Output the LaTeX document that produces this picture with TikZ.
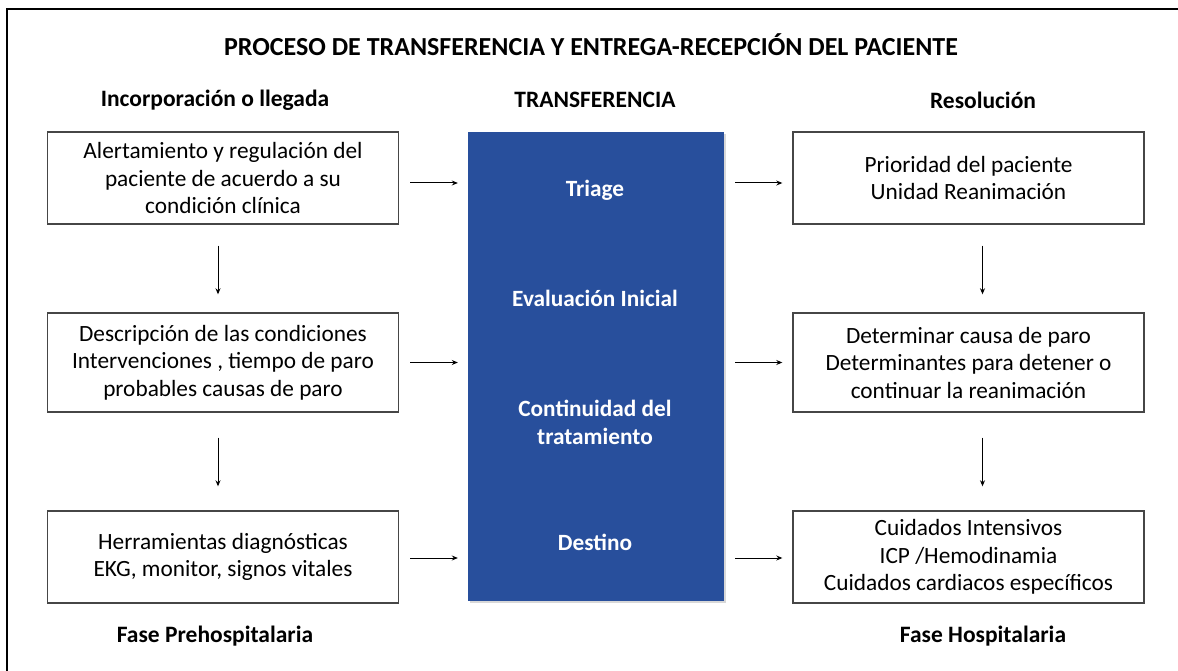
\documentclass[tikz,border=0pt]{standalone}
\usepackage{fontspec}
\setmainfont{Carlito}
\usetikzlibrary{arrows.meta,shadows,calc}
\definecolor{tblue}{RGB}{40,79,156}
\definecolor{bordergray}{RGB}{70,70,70}
\tikzset{
  box/.style={draw=bordergray, line width=1.4pt, fill=white, minimum width=351pt, align=center, font=\fontsize{23.3}{27.5}\selectfont, inner sep=0pt},
  hdr/.style={font=\bfseries\fontsize{23.5}{26}\selectfont, inner sep=0pt},
  bluetext/.style={text=white, font=\bfseries\fontsize{23.3}{28}\selectfont, align=center, inner sep=0pt},
  arr/.style={-{Stealth[length=6pt,width=5pt]}, line width=1pt, black},
}
\begin{document}
\begin{tikzpicture}[x=1pt,y=-1pt]
\useasboundingbox (0,0) rectangle (1178,671);
\fill[white] (0,0) rectangle (1178,671);
\draw[line width=2.8pt] (7,671) -- (7,9) -- (1178,9);

\node[font=\bfseries\fontsize{26}{30}\selectfont, inner sep=0pt] (title) at (591,45) {PROCESO DE TRANSFERENCIA Y ENTREGA-RECEPCIÓN DEL PACIENTE};
\node[hdr] (h1) at (215,100) {Incorporación o llegada};
\node[hdr] (h2) at (595,100) {TRANSFERENCIA};
\node[hdr] (h3) at (983,100) {Resolución};
\node[hdr] (f1) at (215,636) {Fase Prehospitalaria};
\node[hdr] (f3) at (983,636) {Fase Hospitalaria};

\node[fill=tblue, minimum width=256pt, minimum height=469pt, inner sep=0pt, drop shadow={shadow xshift=1.5pt, shadow yshift=-2pt, opacity=0.3}] (blue) at (596,366.5) {};
\node[bluetext] (t1) at (595,190) {Triage};
\node[bluetext] (t2) at (595,298) {Evaluación Inicial};
\node[bluetext] (t3) at (595,422) {Continuidad del\\tratamiento};
\node[bluetext] (t4) at (595,542) {Destino};

\node[box, minimum height=92pt] (l1) at (223,178) {Alertamiento y regulación del\\paciente de acuerdo a su\\condición clínica};
\node[box, minimum height=99pt] (l2) at (223,362.5) {Descripción de las condiciones\\Intervenciones , tiempo de paro\\probables causas de paro};
\node[box, minimum height=92pt] (l3) at (223,557) {Herramientas diagnósticas\\EKG, monitor, signos vitales};

\node[box, minimum height=92pt] (r1) at (968.5,178) {Prioridad del paciente\\Unidad Reanimación};
\node[box, minimum height=99pt] (r2) at (968.5,362.5) {Determinar causa de paro\\Determinantes para detener o\\continuar la reanimación};
\node[box, minimum height=92pt] (r3) at (968.5,557) {Cuidados Intensivos\\ICP /Hemodinamia\\Cuidados cardiacos específicos};

% horizontal arrows
\draw[arr, shorten <=11pt, shorten >=10pt] ($(l1.east)+(0,5)$) -- ($(l1.east -| blue.west)+(0,5)$);
\draw[arr, shorten <=11pt, shorten >=10pt] (l2.east) -- (l2.east -| blue.west);
\draw[arr, shorten <=11pt, shorten >=10pt] ($(l3.east)+(0,1)$) -- ($(l3.east -| blue.west)+(0,1)$);
\draw[arr, shorten <=11pt, shorten >=10pt] ($(blue.east |- r1.west)+(0,5)$) -- ($(r1.west)+(0,5)$);
\draw[arr, shorten <=11pt, shorten >=10pt] (blue.east |- r2.west) -- (r2.west);
\draw[arr, shorten <=11pt, shorten >=10pt] ($(blue.east |- r3.west)+(0,1)$) -- ($(r3.west)+(0,1)$);

% vertical arrows
\draw[arr, shorten <=21pt, shorten >=18pt] ($(l1.south)+(-5,0)$) -- ($(l2.north)+(-5,0)$);
\draw[arr, shorten <=25pt, shorten >=24pt] ($(l2.south)+(-5,0)$) -- ($(l3.north)+(-5,0)$);
\draw[arr, shorten <=21pt, shorten >=18pt] ($(r1.south)+(14,0)$) -- ($(r2.north)+(14,0)$);
\draw[arr, shorten <=25pt, shorten >=24pt] ($(r2.south)+(14,0)$) -- ($(r3.north)+(14,0)$);
\end{tikzpicture}
\end{document}
